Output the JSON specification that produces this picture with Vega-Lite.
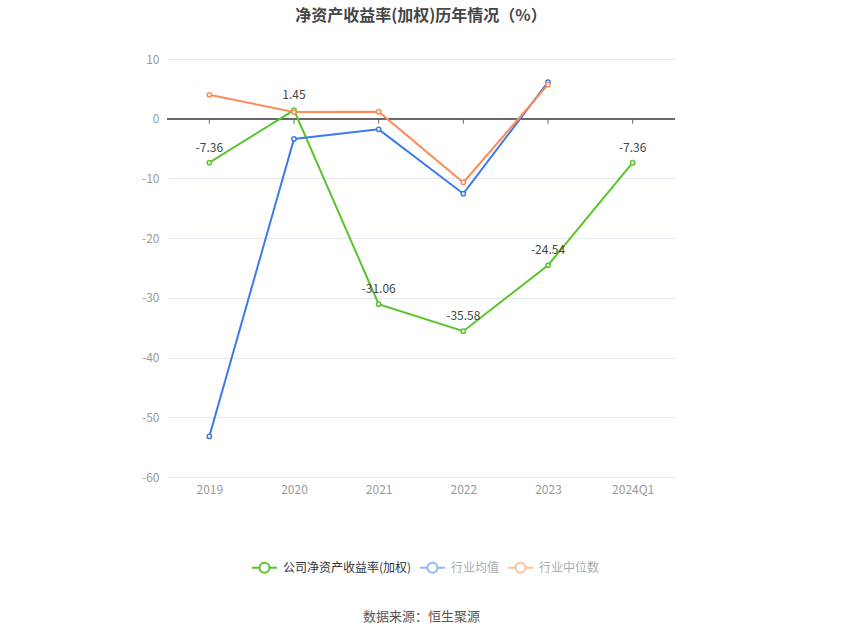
{
  "$schema": "https://vega.github.io/schema/vega-lite/v6.json",
  "width": 508,
  "height": 418,
  "autosize": {"type": "none"},
  "padding": {"left": 167, "top": 59, "right": 175, "bottom": 160},
  "background": "white",
  "config": {
    "font": "Noto Sans CJK SC",
    "view": {"stroke": null}
  },
  "title": {
    "text": "净资产收益率(加权)历年情况（%）",
    "fontSize": 16,
    "fontWeight": "bold",
    "color": "#464646",
    "anchor": "middle",
    "offset": 29,
    "font": "Noto Sans CJK SC"
  },
  "data": {
    "values": [
      {"year": "2019", "series": "公司净资产收益率(加权)", "value": -7.36},
      {"year": "2020", "series": "公司净资产收益率(加权)", "value": 1.45},
      {"year": "2021", "series": "公司净资产收益率(加权)", "value": -31.06},
      {"year": "2022", "series": "公司净资产收益率(加权)", "value": -35.58},
      {"year": "2023", "series": "公司净资产收益率(加权)", "value": -24.54},
      {"year": "2024Q1", "series": "公司净资产收益率(加权)", "value": -7.36},
      {"year": "2019", "series": "行业均值", "value": -53.2},
      {"year": "2020", "series": "行业均值", "value": -3.38},
      {"year": "2021", "series": "行业均值", "value": -1.78},
      {"year": "2022", "series": "行业均值", "value": -12.56},
      {"year": "2023", "series": "行业均值", "value": 6.13},
      {"year": "2019", "series": "行业中位数", "value": 4.0},
      {"year": "2020", "series": "行业中位数", "value": 1.12},
      {"year": "2021", "series": "行业中位数", "value": 1.17},
      {"year": "2022", "series": "行业中位数", "value": -10.68},
      {"year": "2023", "series": "行业中位数", "value": 5.7}
    ]
  },
  "encoding": {
    "x": {
      "field": "year",
      "type": "ordinal",
      "scale": {"type": "point", "padding": 0.5, "domain": ["2019", "2020", "2021", "2022", "2023", "2024Q1"]},
      "axis": {
        "title": "数据来源：恒生聚源",
        "titleFontSize": 13,
        "titleFontWeight": "normal",
        "titleColor": "#555",
        "titlePadding": 115,
        "labelAngle": 0,
        "labelColor": "#999",
        "labelFontSize": 12,
        "labelPadding": 7,
        "domain": false,
        "ticks": false,
        "grid": false
      }
    },
    "y": {
      "field": "value",
      "type": "quantitative",
      "scale": {"domain": [-60, 10], "nice": false},
      "axis": {
        "title": null,
        "values": [-60, -50, -40, -30, -20, -10, 0, 10],
        "labelExpr": "'' + datum.value",
        "labelColor": "#999",
        "labelFontSize": 12,
        "labelPadding": 8,
        "domain": false,
        "ticks": false,
        "gridColor": "#e3e7f0",
        "gridWidth": 1
      }
    }
  },
  "layer": [
    {
      "mark": {"type": "rule", "color": "#666", "strokeWidth": 1},
      "encoding": {"y": {"datum": 0}, "x": null}
    },
    {
      "transform": [{"filter": "datum.series == '公司净资产收益率(加权)'"}],
      "mark": {"type": "rule", "color": "#666", "strokeWidth": 1},
      "encoding": {"y": {"datum": 0}, "y2": {"datum": -0.84}}
    },
    {
      "mark": {
        "type": "line",
        "strokeWidth": 2,
        "point": {"filled": false, "fill": "white", "size": 18, "strokeWidth": 1.5}
      },
      "encoding": {
        "color": {
          "field": "series",
          "type": "nominal",
          "scale": {
            "domain": ["公司净资产收益率(加权)", "行业均值", "行业中位数"],
            "range": ["#5ac42c", "#3d7be8", "#ff8a57"]
          },
          "legend": {
            "title": null,
            "orient": "none",
            "legendX": 84,
            "legendY": 495,
            "direction": "horizontal",
            "symbolType": "M-1,0 L-0.4,0 M0.4,0 A0.4,0.4 0 1,1 -0.4,0 A0.4,0.4 0 1,1 0.4,0 M0.4,0 L1,0",
            "symbolSize": 625,
            "symbolStrokeWidth": 2,
            "symbolFillColor": "white",
            "labelFontSize": 12,
            "labelColor": "#333",
            "columnPadding": 4,
            "labelOffset": 5,
            "encode": {
              "symbols": {"update": {"opacity": {"signal": "datum.value == '公司净资产收益率(加权)' ? 1 : 0.55"}}},
              "labels": {"update": {"fill": {"signal": "datum.value == '公司净资产收益率(加权)' ? '#333' : '#aaa'"}}}
            }
          }
        }
      }
    },
    {
      "transform": [{"filter": "datum.series == '公司净资产收益率(加权)'"}],
      "mark": {"type": "text", "baseline": "bottom", "dy": -8, "fontSize": 12, "color": "#444"},
      "encoding": {"text": {"field": "value", "type": "nominal"}}
    }
  ]
}
